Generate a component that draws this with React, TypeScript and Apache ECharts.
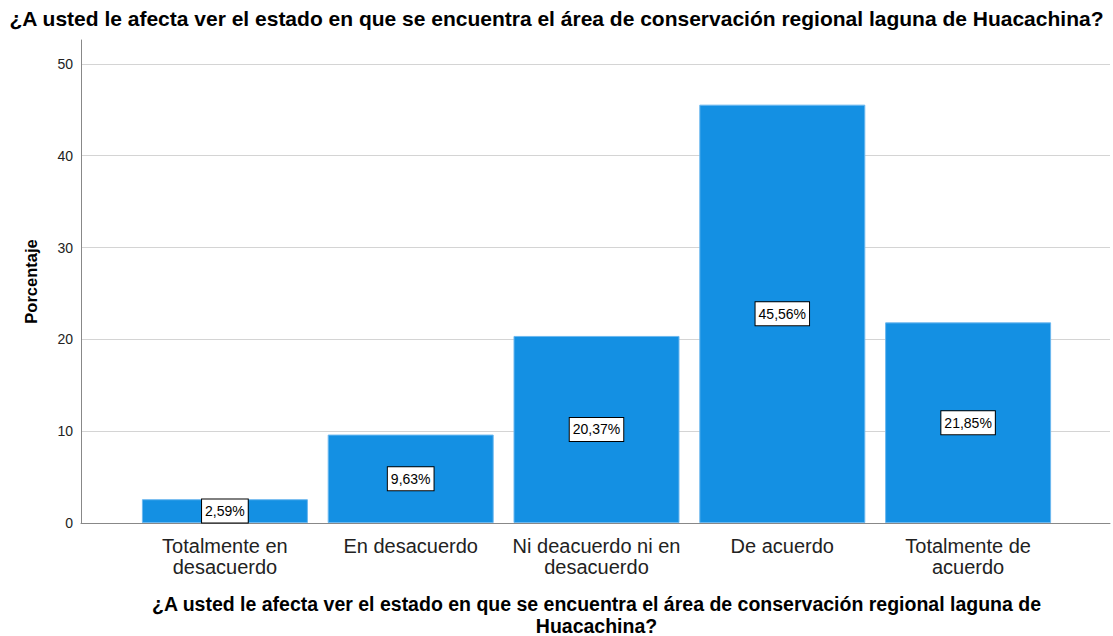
import React, { useEffect, useRef } from "react";
import * as echarts from "echarts";

const categories = [
  "Totalmente en\ndesacuerdo",
  "En desacuerdo",
  "Ni deacuerdo ni en\ndesacuerdo",
  "De acuerdo",
  "Totalmente de\nacuerdo",
];
const percentages = [2.59, 9.63, 20.37, 45.56, 21.85];
const yTicks = [0, 10, 20, 30, 40, 50];

const TITLE =
  "¿A usted le afecta ver el estado en que se encuentra el área de conservación regional laguna de Huacachina?";
const X_TITLE =
  "¿A usted le afecta ver el estado en que se encuentra el área de conservación regional laguna de\nHuacachina?";

const FONT = "'Liberation Sans', Arial, sans-serif";

export default function App() {
  const ref = useRef<HTMLDivElement>(null);
  useEffect(() => {
    if (!ref.current) return;
    const chart = echarts.init(ref.current, undefined, { renderer: "svg" });
    const yMax = 52.6;
    chart.setOption({
      animation: false,
      backgroundColor: "#ffffff",
      textStyle: { fontFamily: FONT },
      title: {
        text: TITLE,
        left: "center",
        top: 3,
        textStyle: { fontFamily: FONT, fontSize: 21, fontWeight: "bold", color: "#000" },
      },
      grid: [
        { left: 81, right: 3, top: 40, bottom: 113, containLabel: false, outerBoundsMode: "none" },
        { left: 132, right: 52, top: 40, bottom: 113, containLabel: false, outerBoundsMode: "none" },
      ],
      xAxis: [
        {
          type: "value",
          gridIndex: 0,
          min: 0,
          max: 1,
          axisLine: { show: true, lineStyle: { color: "#888", width: 1 } },
          axisTick: { show: false },
          axisLabel: { show: false },
          splitLine: { show: false },
        },
        {
          type: "category",
          gridIndex: 1,
          data: categories,
          axisLine: { show: false },
          axisTick: { show: false },
          axisLabel: {
            color: "#222",
            fontSize: 20,
            fontFamily: FONT,
            lineHeight: 21,
            margin: 12,
            interval: 0,
          },
          name: X_TITLE,
          nameLocation: "middle",
          nameGap: 70,
          nameTextStyle: {
            fontFamily: FONT,
            fontSize: 19.5,
            fontWeight: "bold",
            color: "#000",
            lineHeight: 22,
          },
        },
      ],
      yAxis: [
        {
          type: "value",
          gridIndex: 0,
          min: 0,
          max: yMax,
          interval: 10,
          axisLine: { show: true, lineStyle: { color: "#888", width: 1 } },
          axisTick: { show: false },
          axisLabel: {
            color: "#222",
            fontSize: 14,
            fontFamily: FONT,
            margin: 8,
            showMaxLabel: false,
            formatter: (v: number) => (yTicks.includes(v) ? String(v) : ""),
          },
          splitLine: {
            show: true,
            showMinLine: false,
            showMaxLine: false,
            lineStyle: { color: "#d4d4d4", width: 1 },
          },
          name: "Porcentaje",
          nameLocation: "middle",
          nameGap: 42,
          nameTextStyle: { fontFamily: FONT, fontSize: 16.5, fontWeight: "bold", color: "#000" },
        },
        {
          type: "value",
          gridIndex: 1,
          min: 0,
          max: yMax,
          show: false,
          splitLine: { show: false },
        },
      ],
      series: [
        {
          type: "bar",
          xAxisIndex: 1,
          yAxisIndex: 1,
          data: percentages,
          barWidth: 166,
          itemStyle: { color: "#1490e3", borderColor: "#6cb8ef", borderWidth: 1 },
          label: {
            show: true,
            position: "inside",
            formatter: (p: any) => p.value.toFixed(2).replace(".", ",") + "%",
            fontFamily: FONT,
            fontSize: 14,
            lineHeight: 16,
            color: "#000",
            backgroundColor: "#fff",
            borderColor: "#000",
            borderWidth: 1,
            padding: [4, 3, 3, 3],
          },
        },
      ],
    });
    return () => chart.dispose();
  }, []);
  return <div ref={ref} style={{ width: 1113, height: 636, position: "absolute", left: 0, top: 0 }} />;
}
